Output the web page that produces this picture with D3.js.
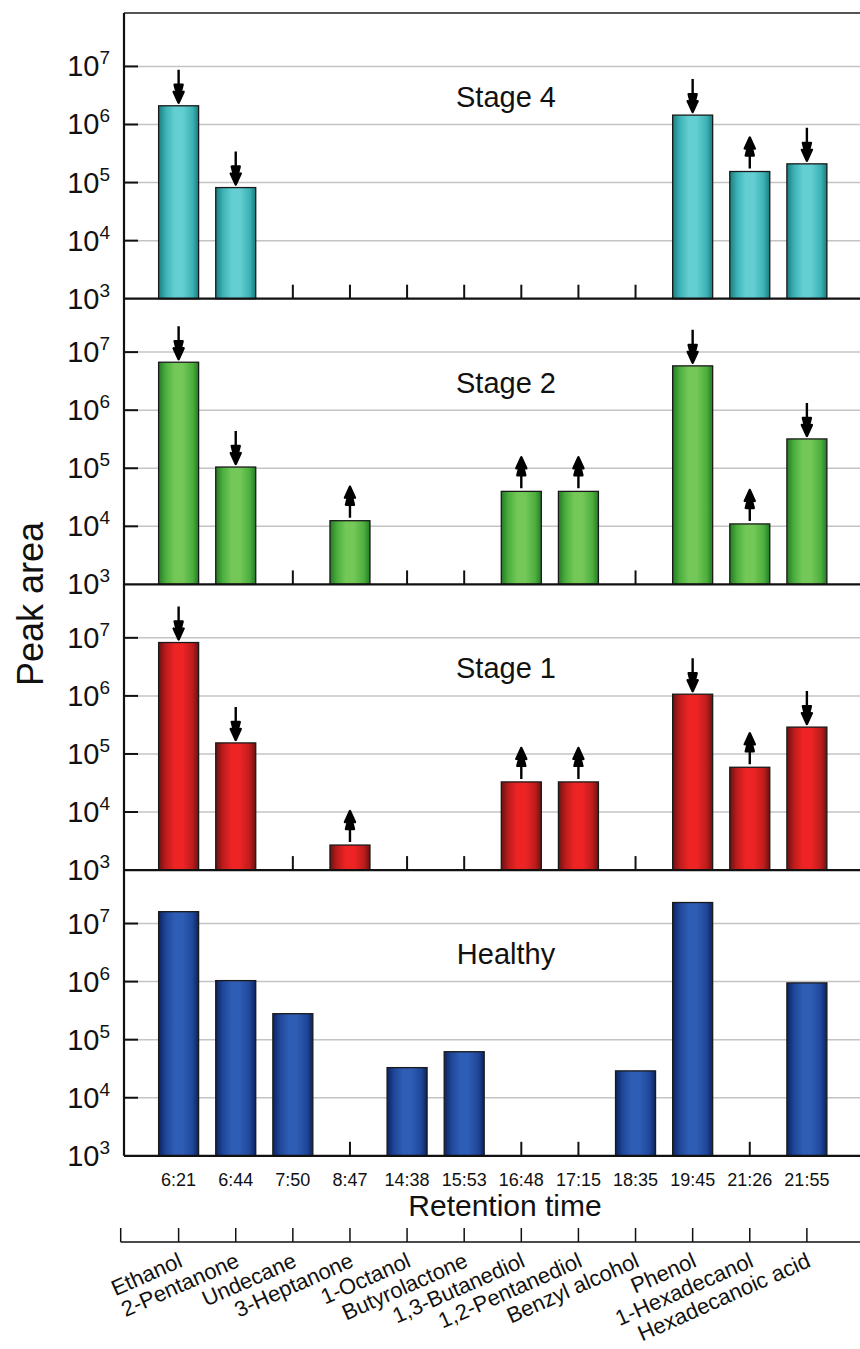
<!DOCTYPE html>
<html>
<head>
<meta charset="utf-8">
<script src="https://cdn.jsdelivr.net/npm/d3@7"></script>
<style>
  body { margin: 0; background: #fff; }
  svg { display: block; font-family: "Liberation Sans", Arial, sans-serif; }
</style>
</head>
<body>
<svg id="chart" width="860" height="1349"></svg>
<script>
// compounds and their retention times
const compounds = ["Ethanol", "2-Pentanone", "Undecane", "3-Heptanone", "1-Octanol", "Butyrolactone",
  "1,3-Butanediol", "1,2-Pentanediol", "Benzyl alcohol", "Phenol", "1-Hexadecanol", "Hexadecanoic acid"];
const retention = ["6:21", "6:44", "7:50", "8:47", "14:38", "15:53", "16:48", "17:15", "18:35", "19:45", "21:26", "21:55"];

// peak areas per stage (null = not detected)
const stage4 = [2.1e6, 8.2e4, null, null, null, null, null, null, null, 1.45e6, 1.55e5, 2.1e5];
const stage2 = [6.7e6, 1.05e5, null, 1.25e4, null, null, 4.0e4, 4.0e4, null, 5.8e6, 1.1e4, 3.2e5];
const stage1 = [8.3e6, 1.55e5, null, 2.7e3, null, null, 3.3e4, 3.3e4, null, 1.07e6, 5.9e4, 2.9e5];
const healthy = [1.6e7, 1.04e6, 2.8e5, null, 3.3e4, 6.2e4, null, null, 2.9e4, 2.3e7, null, 9.5e5];

// arrow direction relative to healthy
const stage4Arrows = ["down", "down", null, null, null, null, null, null, null, "down", "up", "down"];
const stage2Arrows = ["down", "down", null, "up", null, null, "up", "up", null, "down", "up", "down"];
const stage1Arrows = ["down", "down", null, "up", null, null, "up", "up", null, "down", "up", "down"];
const healthyArrows = compounds.map(() => null);

const yTicks = [1e3, 1e4, 1e5, 1e6, 1e7];

const panels = [
  { name: "Stage 4", values: stage4, arrows: stage4Arrows, colors: ["#1b7c7e", "#3cb2b6", "#64cfd2"] },
  { name: "Stage 2", values: stage2, arrows: stage2Arrows, colors: ["#267a26", "#4caf3e", "#74c858"] },
  { name: "Stage 1", values: stage1, arrows: stage1Arrows, colors: ["#6a1212", "#bd1c1c", "#ee2424"] },
  { name: "Healthy", values: healthy, arrows: healthyArrows, colors: ["#0c2360", "#1f4799", "#2e5db5"] }
];

const svg = d3.select("#chart");
const plotLeft = 124, plotRight = 860, plotTop = 13, panelH = 285.7;

const x = d3.scalePoint()
    .domain(compounds)
    .range([121.5, 864])
    .padding(1);
const barW = 40;

// gradients
const defs = svg.append("defs");
panels.forEach((p, i) => {
  const g = defs.append("linearGradient")
      .attr("id", `grad${i}`)
      .attr("x1", 0).attr("x2", 1).attr("y1", 0).attr("y2", 0);
  [[0, 0], [0.18, 1], [0.4, 2], [0.6, 2], [0.85, 1], [1, 0]].forEach(([o, c]) => {
    g.append("stop").attr("offset", o).attr("stop-color", p.colors[c]);
  });
});

function arrowPath(cx, yTop, dir) {
  // tip sits 3px above the bar top; shaft ~33px
  if (dir === "down") {
    const tip = yTop - 3;
    return `M${cx},${tip - 33}L${cx},${tip - 14}` +
      `M${cx},${tip}L${cx - 5},${tip - 11}L${cx - 2},${tip - 10}L${cx - 4},${tip - 18}` +
      `L${cx + 4},${tip - 18}L${cx + 2},${tip - 10}L${cx + 5},${tip - 11}Z`;
  }
  const base = yTop - 3;
  const tip = base - 31;
  return `M${cx},${base}L${cx},${tip + 14}` +
    `M${cx},${tip}L${cx - 5},${tip + 11}L${cx - 2},${tip + 10}L${cx - 4},${tip + 18}` +
    `L${cx + 4},${tip + 18}L${cx + 2},${tip + 10}L${cx + 5},${tip + 11}Z`;
}

panels.forEach((p, i) => {
  const y0 = plotTop + i * panelH;
  const y1 = y0 + panelH;
  const y = d3.scaleLog().domain([1e3, Math.pow(10, 7.92)]).range([y1, y0]);
  const g = svg.append("g");

  // grid
  g.selectAll("line.grid")
      .data(yTicks.slice(1))
    .enter().append("line")
      .attr("x1", plotLeft).attr("x2", plotRight)
      .attr("y1", d => y(d)).attr("y2", d => y(d))
      .attr("stroke", "#c4c4c4")
      .attr("stroke-width", 1.5);

  // category ticks on baseline
  g.selectAll("line.ctick")
      .data(compounds)
    .enter().append("line")
      .attr("x1", d => x(d)).attr("x2", d => x(d))
      .attr("y1", y1).attr("y2", y1 - 14)
      .attr("stroke", "#111")
      .attr("stroke-width", 2);

  // bars
  const data = compounds.map((c, k) => ({ c, v: p.values[k], a: p.arrows[k] }))
    .filter(d => d.v != null);
  g.selectAll("rect")
      .data(data)
    .enter().append("rect")
      .attr("x", d => x(d.c) - barW / 2)
      .attr("width", barW)
      .attr("y", d => y(d.v))
      .attr("height", d => y1 - y(d.v))
      .attr("fill", `url(#grad${i})`)
      .attr("stroke", "#1a1a1a")
      .attr("stroke-width", 1.3);

  // arrows
  g.selectAll("path.arrow")
      .data(data.filter(d => d.a))
    .enter().append("path")
      .attr("d", d => arrowPath(x(d.c), y(d.v), d.a))
      .attr("fill", "#000")
      .attr("stroke", "#000")
      .attr("stroke-width", 2.4)
      .attr("stroke-linejoin", "round");

  // y ticks
  g.selectAll("line.ytick")
      .data(yTicks.slice(1))
    .enter().append("line")
      .attr("x1", plotLeft).attr("x2", plotLeft + 14)
      .attr("y1", d => y(d)).attr("y2", d => y(d))
      .attr("stroke", "#111")
      .attr("stroke-width", 2);

  // y labels
  const lab = g.selectAll("text.ylab")
      .data(yTicks)
    .enter().append("text")
      .attr("x", 110)
      .attr("y", d => y(d) + 10)
      .attr("text-anchor", "end")
      .attr("fill", "#111");
  lab.append("tspan").attr("font-size", 29).text("10");
  lab.append("tspan").attr("font-size", 19).attr("dy", -12)
      .text(d => Math.round(Math.log10(d)));

  // baseline
  g.append("line")
      .attr("x1", plotLeft).attr("x2", plotRight)
      .attr("y1", y1).attr("y2", y1)
      .attr("stroke", "#111")
      .attr("stroke-width", 2.2);

  // panel name
  g.append("text")
      .attr("x", 506)
      .attr("y", y0 + 94)
      .attr("text-anchor", "middle")
      .attr("font-size", 29)
      .attr("fill", "#111")
      .text(p.name);
});

// frame
svg.append("line")
    .attr("x1", plotLeft).attr("x2", plotRight)
    .attr("y1", plotTop).attr("y2", plotTop)
    .attr("stroke", "#555").attr("stroke-width", 2);
svg.append("line")
    .attr("x1", plotLeft).attr("x2", plotLeft)
    .attr("y1", plotTop).attr("y2", plotTop + 4 * panelH)
    .attr("stroke", "#111").attr("stroke-width", 2.2);

// y title
svg.append("text")
    .attr("transform", "translate(43,604) rotate(-90)")
    .attr("text-anchor", "middle")
    .attr("font-size", 36)
    .attr("fill", "#111")
    .text("Peak area");

// retention times
svg.selectAll("text.rt")
    .data(compounds)
  .enter().append("text")
    .attr("x", d => x(d))
    .attr("y", 1186)
    .attr("text-anchor", "middle")
    .attr("font-size", 18)
    .attr("fill", "#111")
    .text((d, k) => retention[k]);

svg.append("text")
    .attr("x", 505)
    .attr("y", 1216)
    .attr("text-anchor", "middle")
    .attr("font-size", 30)
    .attr("fill", "#111")
    .text("Retention time");

// compound axis
const axisY = 1242;
svg.append("line")
    .attr("x1", 120.7).attr("x2", plotRight)
    .attr("y1", axisY).attr("y2", axisY)
    .attr("stroke", "#111").attr("stroke-width", 1.5);
svg.selectAll("line.btick")
    .data([null].concat(compounds))
  .enter().append("line")
    .attr("x1", d => d ? x(d) : 120.7).attr("x2", d => d ? x(d) : 120.7)
    .attr("y1", axisY).attr("y2", axisY - 14)
    .attr("stroke", "#111").attr("stroke-width", 1.5);

svg.selectAll("text.cmp")
    .data(compounds)
  .enter().append("text")
    .attr("transform", d => `translate(${x(d) + 5},1266) rotate(-24)`)
    .attr("text-anchor", "end")
    .attr("font-size", 22)
    .attr("fill", "#111")
    .text(d => d);
</script>
</body>
</html>
